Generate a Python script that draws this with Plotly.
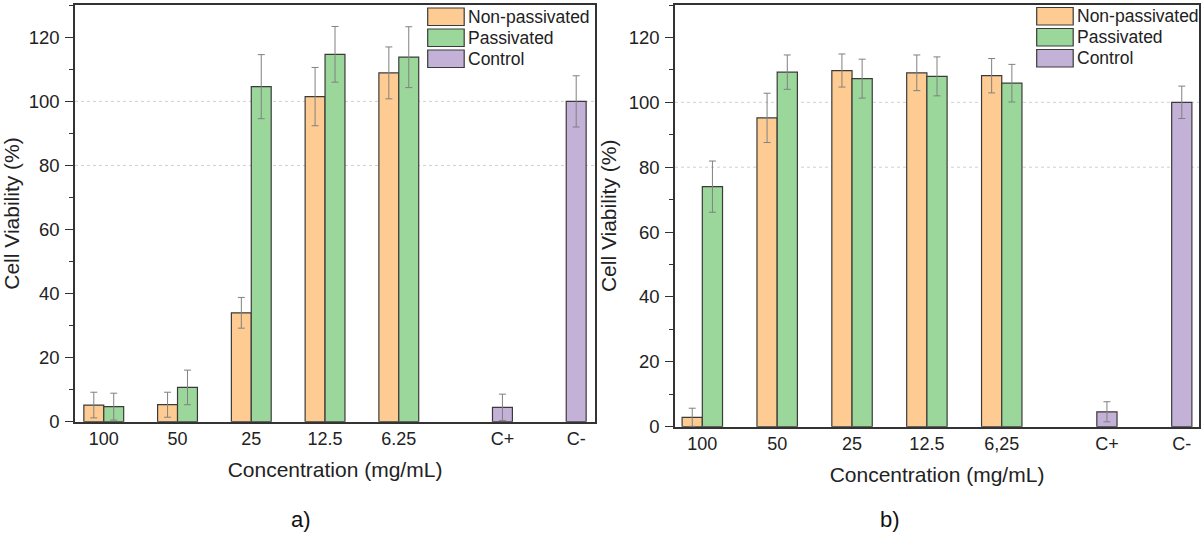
import plotly.graph_objects as go

# ---------------- data ----------------
categories_a = ["100", "50", "25", "12.5", "6.25", "C+", "C-"]
categories_b = ["100", "50", "25", "12.5", "6,25", "C+", "C-"]

nonpass_a = [5.2, 5.3, 34.0, 101.5, 108.9, None, None]
nonpass_a_err = [4.0, 3.9, 4.8, 9.1, 8.1, None, None]
pass_a = [4.7, 10.7, 104.6, 114.7, 113.8, None, None]
pass_a_err = [4.2, 5.4, 10.0, 8.7, 9.5, None, None]
control_a = [None, None, None, None, None, 4.5, 100.0]
control_a_err = [None, None, None, None, None, 4.1, 8.0]

nonpass_b = [2.9, 95.2, 109.8, 109.1, 108.2, None, None]
nonpass_b_err = [2.8, 7.6, 5.1, 5.5, 5.3, None, None]
pass_b = [74.0, 109.3, 107.3, 108.0, 105.9, None, None]
pass_b_err = [7.9, 5.3, 6.0, 6.0, 5.8, None, None]
control_b = [None, None, None, None, None, 4.6, 100.0]
control_b_err = [None, None, None, None, None, 3.1, 5.0]

series_names = ["Non-passivated", "Passivated", "Control"]
grid_values = [80, 100]
y_ticks = [0, 20, 40, 60, 80, 100, 120]

# ---------------- style ----------------
W, H = 1203, 534
FONT = "Arial, Liberation Sans, sans-serif"
TXT = "#222222"
AX = "#333333"
COLORS = ["#FECC93", "#9BD79B", "#C4B1D7"]
EDGE = "#3a3a3a"
BARGAP = 0.19
slot = (1 - BARGAP) / 3


def px_x(p):
    return p / W


def px_y(p):
    return (H - p) / H


# panel pixel boxes (left, right, top, bottom)
panels = {
    "a": dict(x0=75, x1=595, top=5.3, bottom=421.7, xr=[0.475, 7.525], leg_x=427.7, leg_y=8.0, lab_x=301, lab="a)"),
    "b": dict(x0=675, x1=1199, top=5.0, bottom=426.7, xr=[0.5, 7.5], leg_x=1036.7, leg_y=7.5, lab_x=890, lab="b)"),
}

fig = go.Figure()

datasets = {
    "a": ([nonpass_a, pass_a, control_a], [nonpass_a_err, pass_a_err, control_a_err], categories_a, "x", "y"),
    "b": ([nonpass_b, pass_b, control_b], [nonpass_b_err, pass_b_err, control_b_err], categories_b, "x2", "y2"),
}

for key, (vals, errs, cats, xa, ya) in datasets.items():
    xpos = list(range(1, len(cats) + 1))
    for name, v, e, c in zip(series_names, vals, errs, COLORS):
        fig.add_trace(go.Bar(
            x=xpos, y=v, name=name, xaxis=xa, yaxis=ya, showlegend=False,
            marker=dict(color=c, line=dict(color=EDGE, width=1.2)),
            error_y=dict(type="data", array=e, color="#808080", thickness=1, width=3.5),
        ))

shapes = []
annotations = []
layout_axes = {}
for idx, (key, p) in enumerate(panels.items()):
    cats = datasets[key][2]
    n_groups = len(cats)
    tickvals = []
    for i in range(n_groups):
        if i < 5:
            tickvals.append(i + 1 - slot / 2)
        else:
            tickvals.append(i + 1 + slot)
    sfx = "" if idx == 0 else "2"
    xname, yname = "x" + sfx, "y" + sfx
    layout_axes["xaxis" + sfx] = dict(
        domain=[px_x(p["x0"]), px_x(p["x1"])], anchor=yname, range=p["xr"],
        tickmode="array", tickvals=tickvals, ticktext=cats, ticks="",
        showline=True, linecolor=AX, linewidth=1.5, mirror=True,
        showgrid=False, zeroline=False, automargin=False,
        tickfont=dict(family=FONT, size=18, color=TXT), ticklabelstandoff=0,
        title=dict(text="Concentration (mg/mL)", font=dict(family=FONT, size=21, color=TXT), standoff=14),
    )
    layout_axes["yaxis" + sfx] = dict(
        domain=[px_y(p["bottom"]), px_y(p["top"])], anchor=xname, range=[0, 130],
        tickmode="array", tickvals=y_ticks, ticks="outside", ticklen=8, tickwidth=1.3, tickcolor=AX,
        minor=dict(dtick=10, tick0=0, ticks="outside", ticklen=4, tickwidth=1.2, tickcolor=AX, showgrid=False),
        showline=True, linecolor=AX, linewidth=1.5, mirror=True,
        showgrid=False, zeroline=False, automargin=False,
        tickfont=dict(family=FONT, size=18.5, color=TXT), ticklabelstandoff=2,
        title=dict(text="Cell Viability (%)", font=dict(family=FONT, size=21, color=TXT), standoff=6),
    )
    for g in grid_values:
        shapes.append(dict(type="line", xref=xname + " domain", yref=yname, x0=0, x1=1, y0=g, y1=g,
                           line=dict(color="#d0d0d0", width=1, dash="dot"), layer="below"))
    # manual legend
    sw_w, sw_h, pitch = 36.5, 17.5, 21.0
    for j, (name, c) in enumerate(zip(series_names, COLORS)):
        ty = p["leg_y"] + j * pitch
        shapes.append(dict(type="rect", xref="paper", yref="paper",
                           x0=px_x(p["leg_x"]), x1=px_x(p["leg_x"] + sw_w),
                           y0=px_y(ty + sw_h), y1=px_y(ty),
                           fillcolor=c, line=dict(color=EDGE, width=1.2), layer="above"))
        annotations.append(dict(xref="paper", yref="paper", x=px_x(p["leg_x"] + sw_w + 2), y=px_y(ty + sw_h / 2),
                                text=name, showarrow=False, xanchor="left", yanchor="middle",
                                font=dict(family=FONT, size=17.5, color=TXT)))
    annotations.append(dict(xref="paper", yref="paper", x=px_x(p["lab_x"]), y=px_y(519),
                            text=p["lab"], showarrow=False, xanchor="center", yanchor="middle",
                            font=dict(family=FONT, size=22, color="#111111")))

fig.update_layout(
    width=W, height=H, margin=dict(l=0, r=0, t=0, b=0),
    paper_bgcolor="white", plot_bgcolor="white",
    barmode="group", bargap=BARGAP, bargroupgap=0,
    showlegend=False, shapes=shapes, annotations=annotations,
    font=dict(family=FONT, color=TXT),
    **layout_axes,
)

fig.write_html("out.html")
